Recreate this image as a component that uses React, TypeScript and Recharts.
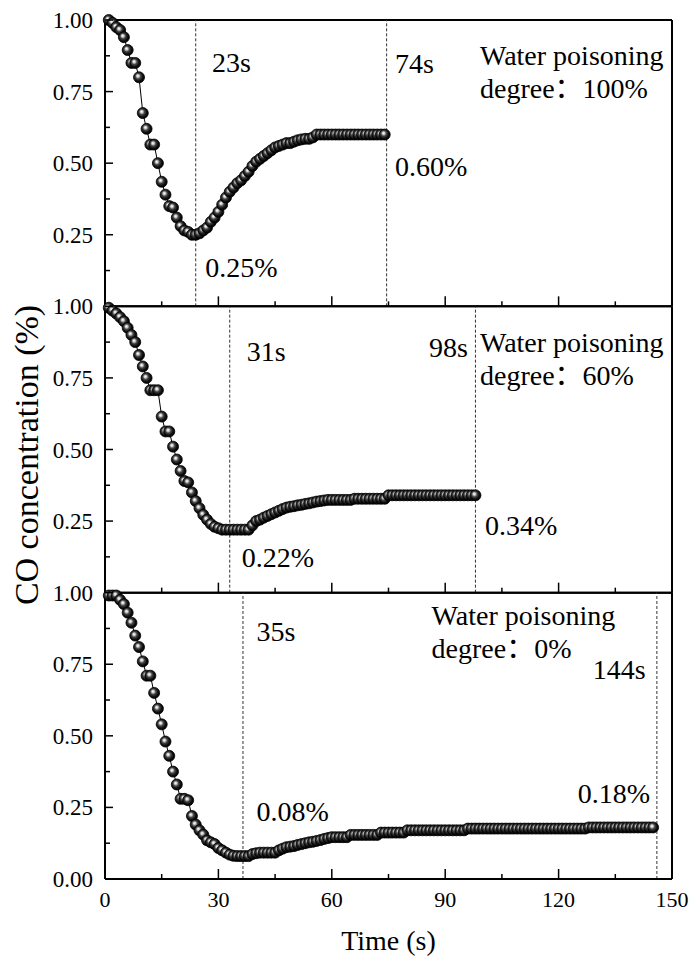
import { Line, LineChart, ReferenceDot, ReferenceLine, XAxis, YAxis } from "recharts";

const FONT = '"Liberation Serif", "Times New Roman", "Noto Sans CJK SC", serif';

const CHART_W = 698;
const CHART_H = 969;
const PANEL_TOP = 20;
const PANEL_H = 286.33;
const PLOT_LEFT = 105;
const PLOT_RIGHT = 672;
const X_AXIS_H = 1;

// sampling: one reading per second, starting at t = 1 s
const SAMPLE_START = 1;
const SAMPLE_STEP = 1;

const timeTicks = [0, 15, 30, 45, 60, 75, 90, 105, 120, 135, 150];
const concTicks = [0, 0.125, 0.25, 0.375, 0.5, 0.625, 0.75, 0.875, 1];

// CO concentration (%), water poisoning degree 100%
const water100 = [
  1.0, 0.99, 0.975, 0.965, 0.94, 0.895, 0.85, 0.85, 0.8, 0.675,
  0.62, 0.565, 0.565, 0.5, 0.435, 0.39, 0.35, 0.345, 0.31, 0.28,
  0.265, 0.26, 0.25, 0.25, 0.255, 0.265, 0.275, 0.295, 0.31, 0.33,
  0.355, 0.38, 0.4, 0.415, 0.43, 0.44, 0.455, 0.47, 0.49, 0.505,
  0.515, 0.525, 0.535, 0.545, 0.555, 0.56, 0.565, 0.57, 0.57, 0.575,
  0.58, 0.583, 0.585, 0.585, 0.59, 0.6, 0.6, 0.6, 0.6, 0.6,
  0.6, 0.6, 0.6, 0.6, 0.6, 0.6, 0.6, 0.6, 0.6, 0.6,
  0.6, 0.6, 0.6, 0.6
];

// water poisoning degree 60%
const water60 = [
  0.995, 0.985, 0.975, 0.962, 0.948, 0.925, 0.9, 0.875, 0.83, 0.79,
  0.75, 0.707, 0.707, 0.707, 0.615, 0.563, 0.563, 0.51, 0.465, 0.425,
  0.39, 0.385, 0.35, 0.32, 0.295, 0.272, 0.255, 0.24, 0.23, 0.225,
  0.22, 0.22, 0.22, 0.22, 0.22, 0.22, 0.22, 0.22, 0.235, 0.25,
  0.255, 0.262, 0.268, 0.274, 0.28, 0.286, 0.292, 0.297, 0.3, 0.302,
  0.305, 0.307, 0.31, 0.312, 0.315, 0.318, 0.32, 0.322, 0.324, 0.324,
  0.324, 0.324, 0.324, 0.324, 0.324, 0.328, 0.328, 0.328, 0.328, 0.328,
  0.328, 0.328, 0.328, 0.328, 0.34, 0.34, 0.34, 0.34, 0.34, 0.34,
  0.34, 0.34, 0.34, 0.34, 0.34, 0.34, 0.34, 0.34, 0.34, 0.34,
  0.34, 0.34, 0.34, 0.34, 0.34, 0.34, 0.34, 0.34
];

// water poisoning degree 0%
const water0 = [
  0.99, 0.99, 0.99, 0.975, 0.96, 0.93, 0.895, 0.85, 0.81, 0.76,
  0.71, 0.71, 0.65, 0.595, 0.54, 0.48, 0.43, 0.375, 0.33, 0.28,
  0.28, 0.275, 0.22, 0.19, 0.17, 0.155, 0.135, 0.128, 0.122, 0.108,
  0.1, 0.092, 0.085, 0.081, 0.08, 0.08, 0.08, 0.08, 0.087, 0.09,
  0.092, 0.092, 0.092, 0.092, 0.092, 0.1, 0.106, 0.111, 0.113, 0.115,
  0.119, 0.122, 0.125, 0.128, 0.13, 0.133, 0.136, 0.14, 0.143, 0.146,
  0.146, 0.146, 0.146, 0.146, 0.154, 0.154, 0.154, 0.154, 0.154, 0.154,
  0.154, 0.154, 0.162, 0.162, 0.162, 0.162, 0.162, 0.162, 0.162, 0.17,
  0.17, 0.17, 0.17, 0.17, 0.17, 0.17, 0.17, 0.17, 0.17, 0.17,
  0.17, 0.17, 0.17, 0.17, 0.17, 0.176, 0.176, 0.176, 0.176, 0.176,
  0.176, 0.176, 0.176, 0.176, 0.176, 0.176, 0.176, 0.176, 0.176, 0.176,
  0.176, 0.176, 0.176, 0.176, 0.176, 0.176, 0.176, 0.176, 0.176, 0.176,
  0.176, 0.176, 0.176, 0.176, 0.176, 0.176, 0.176, 0.18, 0.18, 0.18,
  0.18, 0.18, 0.18, 0.18, 0.18, 0.18, 0.18, 0.18, 0.18, 0.18,
  0.18, 0.18, 0.18, 0.18, 0.18
];

// dashed markers: time of minimum and time the signal settles
const markers100 = [24, 74.5];
const markers60 = [33, 98];
const markers0 = [36.5, 146];

type Note = { t: number; v: number; lines: string[]; anchor?: "start" | "end" };

const notes100: Note[] = [
  { t: 28.3, v: 0.818, lines: ["23s"] },
  { t: 76.7, v: 0.815, lines: ["74s"] },
  { t: 99.2, v: 0.843, lines: ["Water poisoning", "degree：100%"] },
  { t: 26.5, v: 0.102, lines: ["0.25%"] },
  { t: 76.7, v: 0.455, lines: ["0.60%"] }
];

const notes60: Note[] = [
  { t: 37.5, v: 0.81, lines: ["31s"] },
  { t: 96.0, v: 0.824, lines: ["98s"], anchor: "end" },
  { t: 99.2, v: 0.842, lines: ["Water poisoning", "degree：60%"] },
  { t: 36.2, v: 0.091, lines: ["0.22%"] },
  { t: 100.5, v: 0.2, lines: ["0.34%"] }
];

const notes0: Note[] = [
  { t: 40.1, v: 0.832, lines: ["35s"] },
  { t: 86.4, v: 0.887, lines: ["Water poisoning", "degree：0%"] },
  { t: 143.0, v: 0.697, lines: ["144s"], anchor: "end" },
  { t: 40.1, v: 0.204, lines: ["0.08%"] },
  { t: 144.2, v: 0.266, lines: ["0.18%"], anchor: "end" }
];

const panels = [
  { id: "p100", values: water100, markers: markers100, notes: notes100 },
  { id: "p60", values: water60, markers: markers60, notes: notes60 },
  { id: "p0", values: water0, markers: markers0, notes: notes0 }
];

function TimeTick(props: any) {
  const { x, y, payload, labelled } = props;
  const value = payload.value as number;
  const major = value % 30 === 0;
  return (
    <g>
      <line x1={x} x2={x} y1={y} y2={y - (major ? 10 : 5)} stroke="#000" strokeWidth={1.5} />
      {labelled && major ? (
        <text x={x} y={y + 28} textAnchor="middle" fontFamily={FONT} fontSize={22} fill="#000">
          {value}
        </text>
      ) : null}
    </g>
  );
}

function ConcTick(props: any) {
  const { x, y, payload, showZero } = props;
  const value = payload.value as number;
  const major = Math.abs(value * 4 - Math.round(value * 4)) < 1e-6;
  const showLabel = major && (value > 0 || showZero);
  return (
    <g>
      <line x1={x} x2={x + (major ? 8 : 5)} y1={y} y2={y} stroke="#000" strokeWidth={1.5} />
      {showLabel ? (
        <text x={x - 12} y={y} dy="0.35em" textAnchor="end" fontFamily={FONT} fontSize={23} fill="#000">
          {value.toFixed(2)}
        </text>
      ) : null}
    </g>
  );
}

function Panel({ index }: { index: number }) {
  const panel = panels[index];
  const last = index === panels.length - 1;
  const top = PANEL_TOP + index * PANEL_H;
  const bottom = CHART_H - (top + PANEL_H) - X_AXIS_H;
  const rows = panel.values.map((v, i) => ({ t: SAMPLE_START + i * SAMPLE_STEP, v }));
  const ballId = `ball-${panel.id}`;

  return (
    <div style={{ position: "absolute", left: 0, top: 0 }}>
      <LineChart
        width={CHART_W}
        height={CHART_H}
        data={rows}
        margin={{ top, right: CHART_W - PLOT_RIGHT, bottom, left: 0 }}
      >
        <defs>
          <radialGradient id={ballId} cx="45%" cy="45%" r="55%" fx="38%" fy="36%">
            <stop offset="0" stopColor="#ffffff" />
            <stop offset="0.2" stopColor="#d0d0d0" />
            <stop offset="0.45" stopColor="#454545" />
            <stop offset="0.75" stopColor="#101010" />
            <stop offset="1" stopColor="#000000" />
          </radialGradient>
        </defs>
        <XAxis
          type="number"
          dataKey="t"
          domain={[0, 150]}
          ticks={timeTicks}
          interval={0}
          height={X_AXIS_H}
          tickSize={0}
          tickMargin={0}
          tickLine={false}
          axisLine={{ stroke: "#000", strokeWidth: 2 }}
          tick={<TimeTick labelled={last} />}
        />
        <YAxis
          type="number"
          domain={[0, 1]}
          ticks={concTicks}
          interval={0}
          width={PLOT_LEFT}
          tickSize={0}
          tickMargin={0}
          tickLine={false}
          axisLine={{ stroke: "#000", strokeWidth: 2 }}
          tick={<ConcTick showZero={last} />}
        />
        <ReferenceLine y={1} stroke="#000" strokeWidth={2} />
        <ReferenceLine x={150} stroke="#000" strokeWidth={2} />
        {panel.markers.map((m) => (
          <ReferenceLine key={m} x={m} stroke="#333" strokeWidth={1} strokeDasharray="3 2" />
        ))}
        <Line
          type="linear"
          dataKey="v"
          stroke="#000"
          strokeWidth={1}
          isAnimationActive={false}
          activeDot={false}
          dot={(p: any) => (
            <circle
              key={`d-${p.index}`}
              cx={p.cx}
              cy={p.cy}
              r={5.5}
              fill={`url(#${ballId})`}
              stroke="#000"
              strokeWidth={0.8}
            />
          )}
        />
        {panel.notes.map((n, i) => (
          <ReferenceDot
            key={`n-${i}`}
            x={n.t}
            y={n.v}
            r={0}
            shape={(p: any) => (
              <text
                x={p.cx}
                y={p.cy}
                textAnchor={n.anchor ?? "start"}
                fontFamily={FONT}
                fontSize={28}
                fill="#000"
              >
                {n.lines.map((line, k) => (
                  <tspan key={k} x={p.cx} dy={k === 0 ? 0 : 33}>
                    {line}
                  </tspan>
                ))}
              </text>
            )}
          />
        ))}
      </LineChart>
    </div>
  );
}

export default function App() {
  return (
    <div
      style={{
        position: "absolute",
        left: 0,
        top: 0,
        width: CHART_W,
        height: CHART_H,
        background: "#fff",
        overflow: "hidden"
      }}
    >
      {panels.map((p, i) => (
        <Panel key={p.id} index={i} />
      ))}
      <svg
        width={CHART_W}
        height={CHART_H}
        style={{ position: "absolute", left: 0, top: 0, pointerEvents: "none" }}
      >
        <text
          x={(PLOT_LEFT + PLOT_RIGHT) / 2}
          y={950}
          textAnchor="middle"
          fontFamily={FONT}
          fontSize={28}
          fill="#000"
        >
          Time (s)
        </text>
        <text
          transform="translate(38 455) rotate(-90)"
          textAnchor="middle"
          fontFamily={FONT}
          fontSize={34}
          fill="#000"
        >
          CO concentration (%)
        </text>
      </svg>
    </div>
  );
}
